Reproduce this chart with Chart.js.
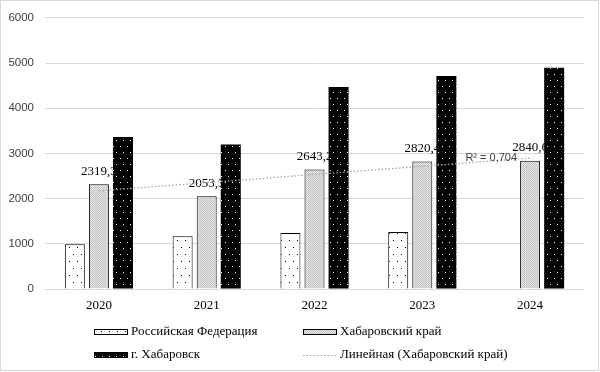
<!DOCTYPE html>
<html>
<head>
<meta charset="utf-8">
<script src="https://cdn.jsdelivr.net/npm/chart.js@4"></script>
<style>
  html, body { margin: 0; padding: 0; background: #fff; }
  #wrap { width: 600px; height: 372px; }
</style>
</head>
<body>
<div id="wrap"><canvas id="myChart" width="600" height="372"></canvas></div>
<script>
const years = ['2020', '2021', '2022', '2023', '2024'];
const rfValues = [990, 1165, 1238, 1260, null];
const krayValues = [2319.3, 2053.3, 2643.2, 2820.4, 2840.6];
const krayLabels = ['2319,3', '2053,3', '2643,2', '2820,4', '2840,6'];
const cityValues = [3362, 3196, 4472, 4712, 4897];
const trendValues = [2173, 2354, 2535, 2716, 2897];
const seriesNames = ['Российская Федерация', 'Хабаровский край', 'г. Хабаровск', 'Линейная (Хабаровский край)'];
const r2Text = 'R² = 0,704';

function makePattern(bg, dot, w, h, dots) {
    const c = document.createElement('canvas');
    c.width = w; c.height = h;
    const x = c.getContext('2d');
    x.fillStyle = bg;
    x.fillRect(0, 0, w, h);
    x.fillStyle = dot;
    dots.forEach(d => x.fillRect(d[0], d[1], 1, 1));
    return x.createPattern(c, 'repeat');
}

const rfPattern = makePattern('#ffffff', '#000000', 8, 14, [[1, 2], [5, 9]]);
const cityPattern = makePattern('#000000', '#ffffff', 7, 12, [[1, 2], [4, 8]]);
const krayPattern = makePattern('#e4e4e4', '#c4c4c4', 2, 2, [[0, 0], [1, 1]]);

const serif = '"Liberation Serif", "Times New Roman", serif';
const sans = '"Liberation Sans", Arial, sans-serif';

// labels go under the black bars, so draw them just before that dataset
const labelPlugin = {
    id: 'krayLabels',
    beforeDatasetDraw(chart, args) {
        if (args.index !== 2) return;
        const ctx = chart.ctx;
        const meta = chart.getDatasetMeta(1);
        ctx.save();
        ctx.font = '13px ' + serif;
        ctx.fillStyle = '#000';
        ctx.textAlign = 'center';
        ctx.textBaseline = 'middle';
        meta.data.forEach((el, i) => {
            ctx.fillText(krayLabels[i], el.x, el.y - 13);
        });
        ctx.restore();
    },
    afterDatasetsDraw(chart) {
        const ctx = chart.ctx;
        const meta = chart.getDatasetMeta(3);
        const last = meta.data[meta.data.length - 1];
        ctx.save();
        ctx.font = '11px ' + sans;
        ctx.fillStyle = '#404040';
        ctx.textAlign = 'right';
        ctx.textBaseline = 'middle';
        ctx.fillText(r2Text, last.x - 13, last.y);
        ctx.restore();
    }
};

const framePlugin = {
    id: 'frame',
    beforeDraw(chart) {
        const ctx = chart.ctx;
        ctx.save();
        ctx.fillStyle = '#fff';
        ctx.fillRect(0, 0, chart.width, chart.height);
        ctx.restore();
    },
    afterDraw(chart) {
        const ctx = chart.ctx;
        ctx.save();
        ctx.strokeStyle = '#d9d9d9';
        ctx.lineWidth = 1;
        ctx.strokeRect(0.5, 0.5, 598, 370);

        // legend, two columns
        const items = [
            { x: 94, y: 332, fill: rfPattern },
            { x: 303, y: 332, fill: krayPattern },
            { x: 94, y: 355, fill: cityPattern },
            { x: 303, y: 355, line: true }
        ];
        ctx.font = '13px ' + serif;
        ctx.textBaseline = 'middle';
        items.forEach((it, i) => {
            if (it.line) {
                ctx.strokeStyle = '#a6a6a6';
                ctx.lineWidth = 1.2;
                ctx.setLineDash([1.5, 2]);
                ctx.beginPath();
                ctx.moveTo(it.x, it.y + 0.5);
                ctx.lineTo(it.x + 34, it.y + 0.5);
                ctx.stroke();
                ctx.setLineDash([]);
            } else {
                ctx.fillStyle = it.fill;
                ctx.fillRect(it.x, it.y - 3, 34, 6);
                ctx.strokeStyle = '#000';
                ctx.lineWidth = 1;
                ctx.strokeRect(it.x + 0.5, it.y - 2.5, 33, 5);
            }
            ctx.fillStyle = '#000';
            ctx.fillText(seriesNames[i], it.x + 37, it.y);
        });
        ctx.restore();
    }
};

const ctx = document.getElementById('myChart').getContext('2d');
new Chart(ctx, {
    type: 'bar',
    data: {
        labels: years,
        datasets: [{
            label: seriesNames[0],
            data: rfValues,
            backgroundColor: rfPattern,
            borderColor: '#000',
            borderWidth: 1
        }, {
            label: seriesNames[1],
            data: krayValues,
            backgroundColor: krayPattern,
            borderColor: '#000',
            borderWidth: 1
        }, {
            label: seriesNames[2],
            data: cityValues,
            backgroundColor: cityPattern,
            borderColor: '#000',
            borderWidth: 0
        }, {
            type: 'line',
            label: seriesNames[3],
            data: trendValues,
            borderColor: '#a6a6a6',
            borderWidth: 1.3,
            borderDash: [1.5, 2],
            pointRadius: 0,
            fill: false,
            order: -1
        }]
    },
    options: {
        responsive: false,
        animation: false,
        events: [],
        categoryPercentage: 0.67,
        barPercentage: 0.83,
        layout: {
            padding: { left: 0, right: 16, top: 14, bottom: 49 }
        },
        plugins: {
            legend: { display: false },
            tooltip: { enabled: false }
        },
        scales: {
            x: {
                grid: { display: false, drawTicks: false },
                border: { display: false },
                ticks: {
                    padding: 9,
                    color: '#000',
                    font: { family: serif, size: 13 }
                },
                afterFit(scale) { scale.height = 34; }
            },
            y: {
                min: 0,
                max: 6000,
                grid: { color: '#d9d9d9', drawTicks: false },
                border: { display: false },
                ticks: {
                    stepSize: 1000,
                    padding: 11,
                    color: '#404040',
                    font: { family: sans, size: 11.5 },
                    callback: v => String(v)
                },
                afterFit(scale) { scale.width = 45; }
            }
        }
    },
    plugins: [labelPlugin, framePlugin]
});
</script>
</body>
</html>
